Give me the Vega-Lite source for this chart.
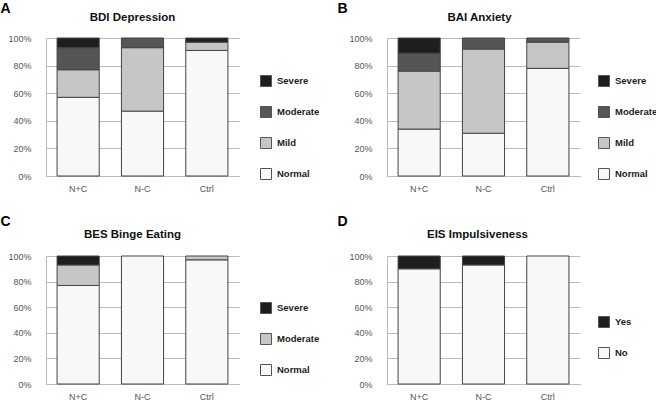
{
  "$schema": "https://vega.github.io/schema/vega-lite/v6.json",
  "padding": {"top": 1, "left": 0, "right": 0, "bottom": 0},
  "background": "white",
  "data": {"values": [
    {"panel": "A", "group": "N+C", "level": "Normal", "sev": 0, "value": 57},
    {"panel": "A", "group": "N+C", "level": "Mild", "sev": 1, "value": 20},
    {"panel": "A", "group": "N+C", "level": "Moderate", "sev": 2, "value": 16},
    {"panel": "A", "group": "N+C", "level": "Severe", "sev": 3, "value": 7},
    {"panel": "A", "group": "N-C", "level": "Normal", "sev": 0, "value": 47},
    {"panel": "A", "group": "N-C", "level": "Mild", "sev": 1, "value": 46},
    {"panel": "A", "group": "N-C", "level": "Moderate", "sev": 2, "value": 7},
    {"panel": "A", "group": "Ctrl", "level": "Normal", "sev": 0, "value": 91},
    {"panel": "A", "group": "Ctrl", "level": "Mild", "sev": 1, "value": 6},
    {"panel": "A", "group": "Ctrl", "level": "Severe", "sev": 3, "value": 3},
    {"panel": "B", "group": "N+C", "level": "Normal", "sev": 0, "value": 34},
    {"panel": "B", "group": "N+C", "level": "Mild", "sev": 1, "value": 42},
    {"panel": "B", "group": "N+C", "level": "Moderate", "sev": 2, "value": 13},
    {"panel": "B", "group": "N+C", "level": "Severe", "sev": 3, "value": 11},
    {"panel": "B", "group": "N-C", "level": "Normal", "sev": 0, "value": 31},
    {"panel": "B", "group": "N-C", "level": "Mild", "sev": 1, "value": 61},
    {"panel": "B", "group": "N-C", "level": "Moderate", "sev": 2, "value": 8},
    {"panel": "B", "group": "Ctrl", "level": "Normal", "sev": 0, "value": 78},
    {"panel": "B", "group": "Ctrl", "level": "Mild", "sev": 1, "value": 19},
    {"panel": "B", "group": "Ctrl", "level": "Moderate", "sev": 2, "value": 3},
    {"panel": "C", "group": "N+C", "level": "Normal", "sev": 0, "value": 77},
    {"panel": "C", "group": "N+C", "level": "Moderate", "sev": 1, "value": 16},
    {"panel": "C", "group": "N+C", "level": "Severe", "sev": 2, "value": 7},
    {"panel": "C", "group": "N-C", "level": "Normal", "sev": 0, "value": 100},
    {"panel": "C", "group": "Ctrl", "level": "Normal", "sev": 0, "value": 97},
    {"panel": "C", "group": "Ctrl", "level": "Moderate", "sev": 1, "value": 3},
    {"panel": "D", "group": "N+C", "level": "No", "sev": 0, "value": 90},
    {"panel": "D", "group": "N+C", "level": "Yes", "sev": 1, "value": 10},
    {"panel": "D", "group": "N-C", "level": "No", "sev": 0, "value": 93},
    {"panel": "D", "group": "N-C", "level": "Yes", "sev": 1, "value": 7},
    {"panel": "D", "group": "Ctrl", "level": "No", "sev": 0, "value": 100}
  ]},
  "config": {
    "font": "Liberation Sans, Arial, sans-serif",
    "view": {"stroke": null},
    "axis": {"labelFontSize": 9, "labelColor": "#555", "ticks": false, "domainColor": "#bbb", "gridColor": "#bbb", "domainWidth": 1, "gridWidth": 1},
    "axisY": {"grid": true, "labelPadding": 15, "titleAngle": 0, "titleAlign": "left", "titleBaseline": "top", "titleFontSize": 14, "titleFontWeight": "bold", "titleColor": "#000"},
    "axisX": {"grid": false, "labelPadding": 8, "labelAngle": 0, "title": null},
    "legend": {"orient": "none", "title": null, "symbolType": "square", "symbolSize": 121, "symbolStrokeColor": "#555", "symbolStrokeWidth": 1, "labelFontSize": 9.5, "labelFontWeight": "bold", "labelColor": "#222", "rowPadding": 15, "labelOffset": 5},
    "title": {"fontSize": 11.5, "fontWeight": "bold", "color": "#111", "frame": "group", "anchor": "middle", "baseline": "alphabetic"}
  },
  "columns": 2,
  "bounds": "flush",
  "spacing": {"row": 80, "column": 148},
  "resolve": {"scale": {"color": "independent"}},
  "concat": [
    {
      "title": {"text": "BDI  Depression", "dx": -10, "offset": -22.5},
      "width": 193, "height": 138,
      "transform": [{"filter": "datum.panel === 'A'"}],
      "mark": {"type": "bar", "stroke": "#444", "strokeWidth": 1},
      "encoding": {
        "x": {"field": "group", "type": "nominal", "sort": ["N+C", "N-C", "Ctrl"], "scale": {"paddingInner": 0.345, "paddingOuter": 0.172}},
        "y": {"field": "value", "type": "quantitative", "stack": "normalize", "scale": {"domain": [0, 1]}, "axis": {"title": "A", "format": "%", "values": [0, 0.2, 0.4, 0.6, 0.8, 1], "titleX": -46, "titleY": -37}},
        "color": {"field": "level", "type": "nominal", "scale": {"domain": ["Severe", "Moderate", "Mild", "Normal"], "range": ["#1e1e1e", "#555555", "#c6c6c6", "#f8f8f8"]}, "legend": {"orient": "none", "legendX": 214, "legendY": 37}},
        "order": {"field": "sev", "type": "quantitative"}
      }
    },
    {
      "title": {"text": "BAI Anxiety", "dx": -4, "offset": -22.5},
      "width": 193, "height": 138,
      "transform": [{"filter": "datum.panel === 'B'"}],
      "mark": {"type": "bar", "stroke": "#444", "strokeWidth": 1},
      "encoding": {
        "x": {"field": "group", "type": "nominal", "sort": ["N+C", "N-C", "Ctrl"], "scale": {"paddingInner": 0.345, "paddingOuter": 0.172}},
        "y": {"field": "value", "type": "quantitative", "stack": "normalize", "scale": {"domain": [0, 1]}, "axis": {"title": "B", "format": "%", "values": [0, 0.2, 0.4, 0.6, 0.8, 1], "titleX": -50, "titleY": -37}},
        "color": {"field": "level", "type": "nominal", "scale": {"domain": ["Severe", "Moderate", "Mild", "Normal"], "range": ["#1e1e1e", "#555555", "#c6c6c6", "#f8f8f8"]}, "legend": {"orient": "none", "legendX": 211, "legendY": 37}},
        "order": {"field": "sev", "type": "quantitative"}
      }
    },
    {
      "title": {"text": "BES Binge Eating", "dx": -10, "offset": -26},
      "width": 193, "height": 128,
      "transform": [{"filter": "datum.panel === 'C'"}],
      "mark": {"type": "bar", "stroke": "#444", "strokeWidth": 1},
      "encoding": {
        "x": {"field": "group", "type": "nominal", "sort": ["N+C", "N-C", "Ctrl"], "scale": {"paddingInner": 0.345, "paddingOuter": 0.172}},
        "y": {"field": "value", "type": "quantitative", "stack": "normalize", "scale": {"domain": [0, 1]}, "axis": {"title": "C", "format": "%", "values": [0, 0.2, 0.4, 0.6, 0.8, 1], "titleX": -46, "titleY": -42}},
        "color": {"field": "level", "type": "nominal", "scale": {"domain": ["Severe", "Moderate", "Normal"], "range": ["#1e1e1e", "#c6c6c6", "#f8f8f8"]}, "legend": {"orient": "none", "legendX": 214, "legendY": 46}},
        "order": {"field": "sev", "type": "quantitative"}
      }
    },
    {
      "title": {"text": "EIS Impulsiveness", "dx": -6, "offset": -26},
      "width": 193, "height": 128,
      "transform": [{"filter": "datum.panel === 'D'"}],
      "mark": {"type": "bar", "stroke": "#444", "strokeWidth": 1},
      "encoding": {
        "x": {"field": "group", "type": "nominal", "sort": ["N+C", "N-C", "Ctrl"], "scale": {"paddingInner": 0.345, "paddingOuter": 0.172}},
        "y": {"field": "value", "type": "quantitative", "stack": "normalize", "scale": {"domain": [0, 1]}, "axis": {"title": "D", "format": "%", "values": [0, 0.2, 0.4, 0.6, 0.8, 1], "titleX": -50, "titleY": -42}},
        "color": {"field": "level", "type": "nominal", "scale": {"domain": ["Yes", "No"], "range": ["#1e1e1e", "#f8f8f8"]}, "legend": {"orient": "none", "legendX": 211, "legendY": 60}},
        "order": {"field": "sev", "type": "quantitative"}
      }
    }
  ]
}
